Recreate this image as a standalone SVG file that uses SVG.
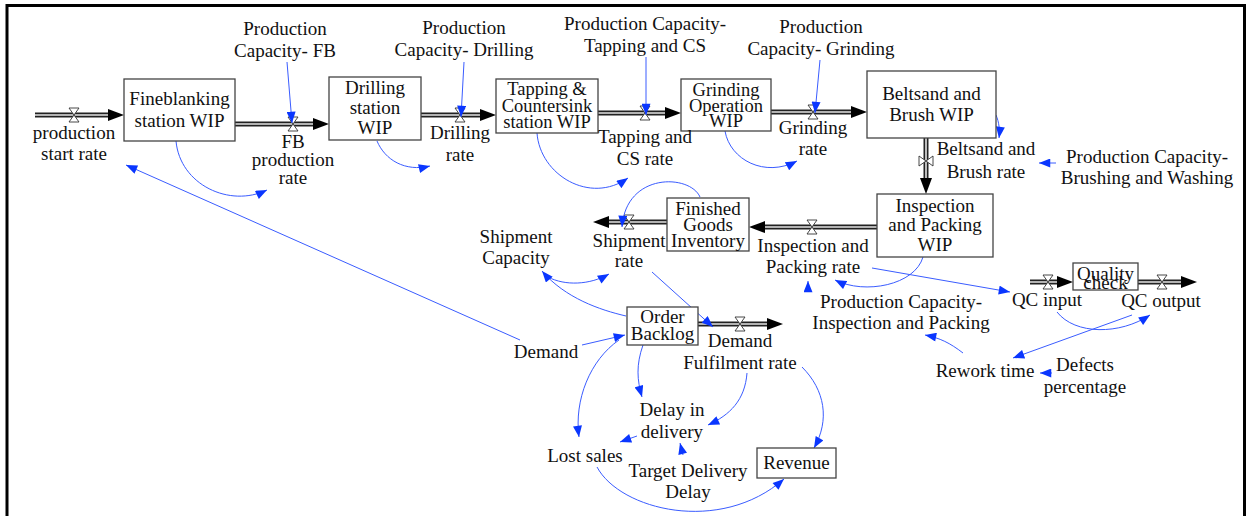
<svg xmlns="http://www.w3.org/2000/svg" width="1250" height="516" viewBox="0 0 1250 516" font-family="'Liberation Serif', 'DejaVu Serif', serif">
<style>
text{font-family:'Liberation Serif','DejaVu Serif',serif;font-size:19px;fill:#111;text-anchor:middle}
.box{fill:#fff;stroke:#444;stroke-width:1.3}
.pipeo{fill:none;stroke:#222;stroke-width:5}
.pipei{fill:none;stroke:#e4e4e4;stroke-width:1.6}
.head{fill:#000}
.link{fill:none;stroke:#3a5cff;stroke-width:1;marker-end:url(#ba)}
.valve{fill:#fff;stroke:#333;stroke-width:0.9}
.tight{font-size:18.5px}
</style>
<defs>
<marker id="ba" viewBox="0 0 10 8" refX="10" refY="4" markerWidth="12" markerHeight="9" markerUnits="userSpaceOnUse" orient="auto"><path d="M0,0 L10,4 L0,8 z" fill="#0a36ff"/></marker>
<polygon id="valve" points="-5,-7 5,-7 -5,7 5,7"/>
<polygon id="valveh" points="-7,-5 -7,5 7,-5 7,5"/>
</defs>
<rect width="1250" height="516" fill="#fff"/>
<path d="M7,516 L7,5.5 L1244.5,5.5 L1244.5,516" fill="none" stroke="#000" stroke-width="3"/>

<g id="connectors">
<g id="flows">
<path class="pipeo" d="M35,115 H110 M235,124 H315 M421,115 H482 M598,113 H667 M771,112 H853 M926,138 V180 M877,227 H763 M667,222 H607 M698,324 H769 M1030,282 H1059 M1138,282 H1183"/>
<path class="pipei" d="M35,115 H110 M235,124 H315 M421,115 H482 M598,113 H667 M771,112 H853 M926,138 V180 M877,227 H763 M667,222 H607 M698,324 H769 M1030,282 H1059 M1138,282 H1183"/>
<polygon class="head" points="108,109 124,115 108,121"/>
<polygon class="head" points="313,118 329,124 313,130"/>
<polygon class="head" points="480,109 496,115 480,121"/>
<polygon class="head" points="665,107 681,113 665,119"/>
<polygon class="head" points="851,106 867,112 851,118"/>
<polygon class="head" points="920,178 926,194 932,178"/>
<polygon class="head" points="765,221 749,227 765,233"/>
<polygon class="head" points="609,216 593,222 609,228"/>
<polygon class="head" points="767,318 783,324 767,330"/>
<polygon class="head" points="1057,276 1073,282 1057,288"/>
<polygon class="head" points="1181,276 1197,282 1181,288"/>
<use href="#valve" class="valve" x="74" y="115"/>
<use href="#valve" class="valve" x="293" y="124"/>
<use href="#valve" class="valve" x="460" y="115"/>
<use href="#valve" class="valve" x="645" y="113"/>
<use href="#valve" class="valve" x="813" y="112"/>
<use href="#valveh" class="valve" x="926" y="161"/>
<use href="#valve" class="valve" x="812" y="227"/>
<use href="#valve" class="valve" x="629" y="222"/>
<use href="#valve" class="valve" x="740" y="324"/>
<use href="#valve" class="valve" x="1048" y="282"/>
<use href="#valve" class="valve" x="1162" y="282"/>
</g>
<g id="links">
<path class="link" d="M287,62 L292,123"/>
<path class="link" d="M464,62 L461,117"/>
<path class="link" d="M646,57 L646,115"/>
<path class="link" d="M820,60 L815,113"/>
<path class="link" d="M176,141 C180,185 230,208 267,190"/>
<path class="link" d="M377,141 C385,160 405,172 430,166"/>
<path class="link" d="M537,133 C540,175 590,205 628,178"/>
<path class="link" d="M725,131 C730,160 765,178 797,161"/>
<path class="link" d="M996,115 C999,122 1000,130 999,138"/>
<path class="link" d="M1056,163 L1039,163"/>
<path class="link" d="M700,197 C690,174 626,172 622,227"/>
<path class="link" d="M548,277 C565,286 590,285 609,274"/>
<path class="link" d="M626,316 C600,310 565,298 542,271"/>
<path class="link" d="M652,272 L713,327"/>
<path class="link" d="M520,340 L126,165"/>
<path class="link" d="M582,345 L625,335"/>
<path class="link" d="M619,340 C590,360 574,400 579,437"/>
<path class="link" d="M643,345 C636,365 637,380 642,397"/>
<path class="link" d="M747,373 C745,400 730,415 708,425"/>
<path class="link" d="M802,367 C825,390 830,420 814,448"/>
<path class="link" d="M637,436 L620,442"/>
<path class="link" d="M683,455 L680,443"/>
<path class="link" d="M597,467 C620,510 720,535 784,479"/>
<path class="link" d="M923,257 C915,285 865,295 835,280"/>
<path class="link" d="M808,291 L808,281"/>
<path class="link" d="M872,268 L1010,292"/>
<path class="link" d="M1057,312 C1075,335 1120,335 1150,315"/>
<path class="link" d="M1132,315 L1013,358"/>
<path class="link" d="M963,353 C950,343 940,338 925,335"/>
<path class="link" d="M1052,373 L1040,373"/>
</g>
</g>

<g id="fineblanking"><rect class="box" x="124" y="79" width="111" height="62"/><text x="179.5" y="105">Fineblanking</text><text x="179.5" y="127">station WIP</text></g>
<g id="drilling"><rect class="box" x="329" y="77" width="92" height="63"/><text x="375" y="94">Drilling</text><text x="375" y="114">station</text><text x="375" y="134">WIP</text></g>
<g id="tapping"><rect class="box" x="496" y="79" width="102" height="54"/><text class="tight" x="547" y="95">Tapping &amp;</text><text class="tight" x="547" y="112">Countersink</text><text class="tight" x="547" y="128">station WIP</text></g>
<g id="grinding"><rect class="box" x="681" y="79" width="90" height="52"/><text class="tight" x="726" y="96">Grinding</text><text class="tight" x="726" y="112">Operation</text><text class="tight" x="726" y="127">WIP</text></g>
<g id="beltsand"><rect class="box" x="867" y="71" width="129" height="67"/><text x="931.5" y="100">Beltsand and</text><text x="931.5" y="121">Brush WIP</text></g>
<g id="inspection"><rect class="box" x="877" y="194" width="116" height="63"/><text x="935" y="212">Inspection</text><text x="935" y="231">and Packing</text><text x="935" y="251">WIP</text></g>
<g id="finished"><rect class="box" x="667" y="198" width="82" height="53"/><text x="708" y="215">Finished</text><text x="708" y="231">Goods</text><text x="708" y="247">Inventory</text></g>
<g id="backlog"><rect class="box" x="627" y="307" width="71" height="38"/><text x="662.5" y="323">Order</text><text x="662.5" y="340">Backlog</text></g>
<g id="quality"><rect class="box" x="1073" y="263" width="65" height="27"/><text x="1105.5" y="280">Quality</text><text x="1105.5" y="289">check</text></g>
<g id="revenue"><rect class="box" x="757" y="448" width="79" height="30"/><text x="796.5" y="469">Revenue</text></g>

<g id="production-start-rate"><text x="74" y="139">production</text><text x="74" y="160">start rate</text></g>
<g id="fb-production-rate"><text x="293" y="148">FB</text><text x="293" y="166">production</text><text x="293" y="184">rate</text></g>
<g id="drilling-rate"><text x="460" y="139">Drilling</text><text x="460" y="161">rate</text></g>
<g id="tapping-rate"><text x="645" y="143">Tapping and</text><text x="645" y="165">CS rate</text></g>
<g id="grinding-rate"><text x="813" y="134">Grinding</text><text x="813" y="155">rate</text></g>
<g id="beltsand-rate"><text x="986" y="155">Beltsand and</text><text x="986" y="178">Brush rate</text></g>
<g id="inspection-rate"><text x="813" y="252">Inspection and</text><text x="813" y="273">Packing rate</text></g>
<g id="shipment-rate"><text x="629" y="247">Shipment</text><text x="629" y="267">rate</text></g>
<g id="fulfilment-rate"><text x="740" y="347">Demand</text><text x="740" y="369">Fulfilment rate</text></g>
<g id="qc-input"><text x="1047" y="306">QC input</text></g>
<g id="qc-output"><text x="1161" y="307">QC output</text></g>

<g id="cap-fb"><text x="285" y="35">Production</text><text x="285" y="57">Capacity- FB</text></g>
<g id="cap-drilling"><text x="464" y="34">Production</text><text x="464" y="56">Capacity- Drilling</text></g>
<g id="cap-tapping"><text x="645" y="30">Production Capacity-</text><text x="645" y="52">Tapping and CS</text></g>
<g id="cap-grinding"><text x="821" y="33">Production</text><text x="821" y="55">Capacity- Grinding</text></g>
<g id="cap-brushing"><text x="1147" y="163">Production Capacity-</text><text x="1147" y="184">Brushing and Washing</text></g>
<g id="shipment-capacity"><text x="516" y="243">Shipment</text><text x="516" y="264">Capacity</text></g>
<g id="cap-inspection"><text x="901" y="308">Production Capacity-</text><text x="901" y="329">Inspection and Packing</text></g>
<g id="rework-time"><text x="985" y="377">Rework time</text></g>
<g id="defects"><text x="1085" y="371">Defects</text><text x="1085" y="393">percentage</text></g>
<g id="demand"><text x="546" y="358">Demand</text></g>
<g id="delay"><text x="672" y="416">Delay in</text><text x="672" y="438">delivery</text></g>
<g id="lost-sales"><text x="585" y="462">Lost sales</text></g>
<g id="target-delay"><text x="688" y="477">Target Delivery</text><text x="688" y="498">Delay</text></g>
</svg>
